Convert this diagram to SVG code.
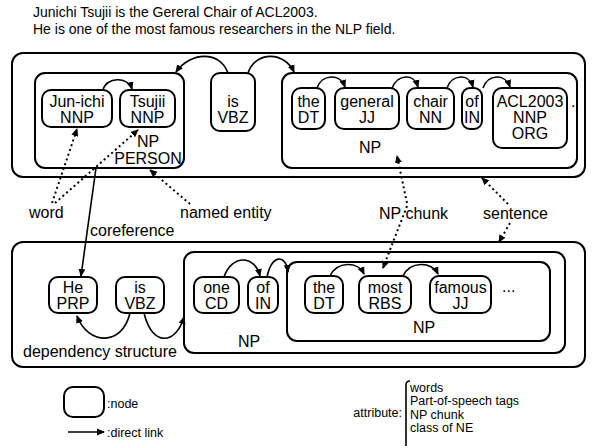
<svg xmlns="http://www.w3.org/2000/svg" width="592" height="448" viewBox="0 0 592 448">
<defs>
<marker id="ah" markerWidth="8" markerHeight="8" refX="7" refY="4" orient="auto" markerUnits="userSpaceOnUse">
<path d="M0,0.5 L8,4 L0,7.5 Z" fill="#000"/>
</marker>
<style>
text{font-family:"Liberation Sans",Arial,sans-serif;fill:#000}
.t{font-size:16px;text-anchor:middle}
.l{font-size:16px}
.ti{font-size:14px}
.lg{font-size:12.5px}
.box{fill:none;stroke:#000;stroke-width:2}
.nd{fill:#fff;stroke:#000;stroke-width:2}
.arc{fill:none;stroke:#000;stroke-width:1.6;marker-end:url(#ah)}
.dot{fill:none;stroke:#000;stroke-width:2;stroke-dasharray:2,3;marker-end:url(#ah)}
</style>
</defs>
<rect width="592" height="448" fill="#fff"/>
<g id="title">
<text class="ti" x="33" y="17">Junichi Tsujii is the Gereral Chair of ACL2003.</text>
<text class="ti" x="33" y="34">He is one of the most famous researchers in the NLP field.</text>
</g>
<g id="sentence1">
<rect class="box" x="12" y="53" width="573" height="124" rx="11"/>
</g>
<g id="np-person">
<rect class="box" x="35" y="73" width="149" height="95" rx="10"/>
<text class="t" x="148" y="147">NP</text>
<text class="t" x="148" y="164">PERSON</text>
</g>
<g id="junichi">
<rect class="nd" x="42" y="90" width="70" height="37" rx="9"/>
<text class="t" x="77" y="107">Jun-ichi</text>
<text class="t" x="77" y="123">NNP</text>
</g>
<g id="tsujii">
<rect class="nd" x="120" y="90" width="55" height="37" rx="9"/>
<text class="t" x="147.5" y="107">Tsujii</text>
<text class="t" x="147.5" y="123">NNP</text>
</g>
<g id="is1">
<rect class="nd" x="211" y="73" width="44" height="58" rx="9"/>
<text class="t" x="233" y="107">is</text>
<text class="t" x="233" y="123">VBZ</text>
</g>
<g id="np1">
<rect class="box" x="282" y="73" width="295" height="95" rx="10"/>
<text class="t" x="370" y="153">NP</text>
</g>
<g id="the1">
<rect class="nd" x="292" y="88" width="33" height="41" rx="9"/>
<text class="t" x="308.5" y="107">the</text>
<text class="t" x="308.5" y="123">DT</text>
</g>
<g id="general">
<rect class="nd" x="335" y="88" width="64" height="41" rx="9"/>
<text class="t" x="367" y="107">general</text>
<text class="t" x="367" y="123">JJ</text>
</g>
<g id="chair">
<rect class="nd" x="407" y="88" width="47" height="41" rx="9"/>
<text class="t" x="430.5" y="107">chair</text>
<text class="t" x="430.5" y="123">NN</text>
</g>
<g id="of1">
<rect class="nd" x="462" y="88" width="20" height="41" rx="8"/>
<text class="t" x="472" y="107">of</text>
<text class="t" x="472" y="123">IN</text>
</g>
<g id="acl">
<rect class="nd" x="493" y="88" width="74" height="60" rx="9"/>
<text class="t" x="530" y="107">ACL2003</text>
<text class="t" x="530" y="123">NNP</text>
<text class="t" x="530" y="139">ORG</text>
</g>
<g id="period">
<text class="l" x="571" y="107">.</text>
</g>
<g id="sentence2">
<rect class="box" x="12" y="242" width="573" height="125" rx="11"/>
<text class="l" x="23" y="357">dependency structure</text>
</g>
<g id="he">
<rect class="nd" x="49" y="277" width="48" height="36" rx="9"/>
<text class="t" x="73" y="293">He</text>
<text class="t" x="73" y="309">PRP</text>
</g>
<g id="is2">
<rect class="nd" x="116" y="277" width="48" height="36" rx="9"/>
<text class="t" x="140" y="293">is</text>
<text class="t" x="140" y="309">VBZ</text>
</g>
<g id="np2">
<rect class="box" x="184" y="252" width="381" height="101" rx="10"/>
<text class="t" x="249" y="347">NP</text>
</g>
<g id="one">
<rect class="nd" x="194" y="277" width="45" height="36" rx="9"/>
<text class="t" x="216.5" y="293">one</text>
<text class="t" x="216.5" y="309">CD</text>
</g>
<g id="of2">
<rect class="nd" x="248" y="277" width="30" height="36" rx="9"/>
<text class="t" x="263" y="293">of</text>
<text class="t" x="263" y="309">IN</text>
</g>
<g id="np3">
<rect class="box" x="287" y="262" width="263" height="79" rx="10"/>
<text class="t" x="424" y="333">NP</text>
</g>
<g id="the2">
<rect class="nd" x="305" y="276" width="38" height="37" rx="9"/>
<text class="t" x="324" y="293">the</text>
<text class="t" x="324" y="309">DT</text>
</g>
<g id="most">
<rect class="nd" x="359" y="276" width="52" height="37" rx="9"/>
<text class="t" x="385" y="293">most</text>
<text class="t" x="385" y="309">RBS</text>
</g>
<g id="famous">
<rect class="nd" x="430" y="276" width="61" height="37" rx="9"/>
<text class="t" x="460.5" y="293">famous</text>
<text class="t" x="460.5" y="309">JJ</text>
</g>
<g id="ellipsis">
<text class="l" x="502" y="292">...</text>
</g>
<g id="labels">
<text class="l" x="29" y="218">word</text>
<text class="l" x="180" y="218">named entity</text>
<text class="l" x="90" y="236">coreference</text>
<text class="l" x="379" y="219">NP chunk</text>
<text class="l" x="483" y="219">sentence</text>
</g>
<g id="connectors">
<path class="arc" d="M103,90 C106,77 128,76 132,89"/>
<path class="arc" d="M228,73 C220,50 190,52 176,72"/>
<path class="arc" d="M248,73 C256,50 285,52 294,72"/>
<path class="arc" d="M317,88 C322,74 340,73 345,87"/>
<path class="arc" d="M392,88 C398,74 414,73 418,87"/>
<path class="arc" d="M447,88 C452,74 469,73 473,87"/>
<path class="arc" d="M483,88 C488,74 505,73 510,87"/>
<path class="arc" d="M130,313 C122,347 88,345 77,316"/>
<path class="arc" d="M144,313 C152,347 176,345 184,317"/>
<path class="arc" d="M224,277 C232,254 255,255 260,276"/>
<path class="arc" d="M267,277 C272,254 286,254 288,272"/>
<path class="arc" d="M330,276 C337,261 358,261 364,274"/>
<path class="arc" d="M403,276 C410,261 432,261 438,274"/>
<path class="arc" d="M96,168 L81,276"/>
<path class="dot" d="M52,203 L77,129"/>
<path class="dot" d="M55,203 L138,130"/>
<path class="dot" d="M190,204 L150,170"/>
<path class="dot" d="M407,203 L397,156"/>
<path class="dot" d="M407,206 L383,268"/>
<path class="dot" d="M508,204 L482,178"/>
<path class="dot" d="M510,223 L499,242"/>
</g>
<g id="legend">
<rect class="nd" x="64" y="387" width="40" height="30" rx="9"/>
<text class="lg" x="107" y="408">:node</text>
<path class="arc" d="M68,432 L104,432"/>
<text class="lg" x="107" y="437">:direct link</text>
<text class="lg" x="402" y="417" text-anchor="end">attribute:</text>
<path d="M410,381 Q406,381 406,385 L406,446" fill="none" stroke="#000" stroke-width="1.6"/>
<text class="lg" x="410" y="391.5">words</text>
<text class="lg" x="410" y="405">Part-of-speech tags</text>
<text class="lg" x="410" y="418.5">NP chunk</text>
<text class="lg" x="410" y="432">class of NE</text>
</g>
</svg>
